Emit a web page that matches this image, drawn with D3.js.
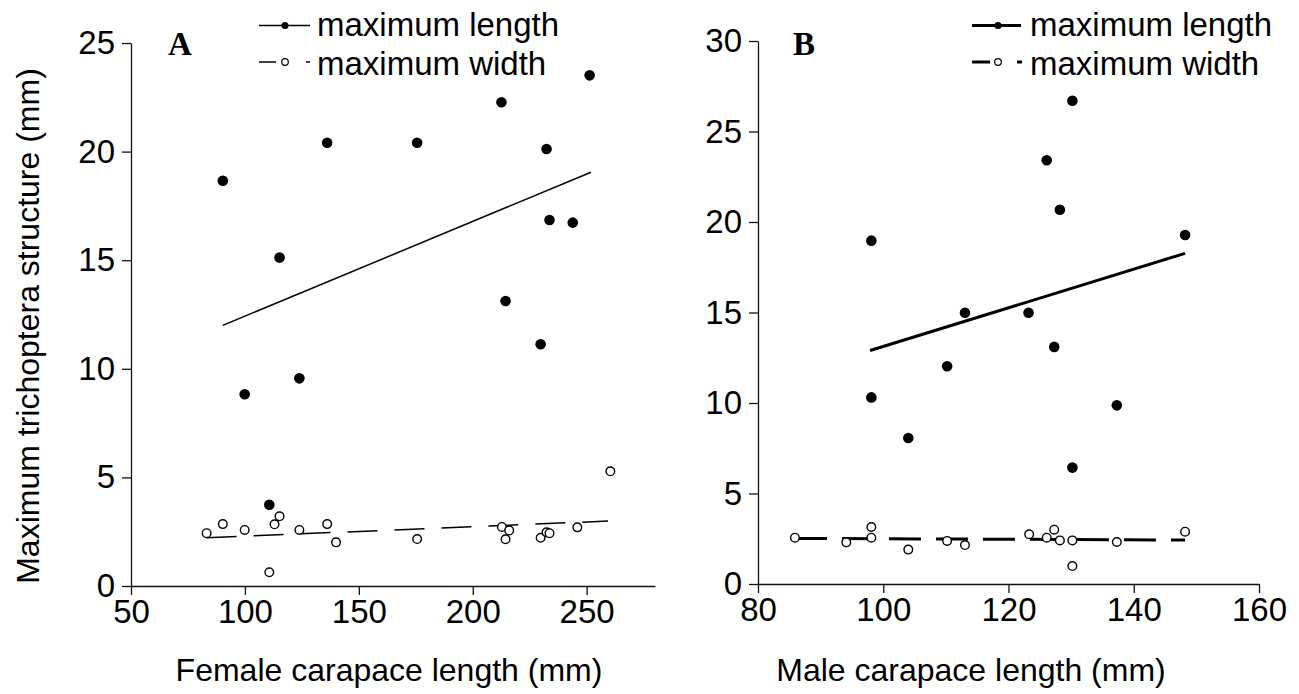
<html>
<head>
    <meta charset="utf-8" />
    <script src="https://cdn.jsdelivr.net/npm/d3@7"></script>
</head>
<style>
    body { margin: 0; background: #fff; }
    svg { font-family: "Liberation Sans", Arial, sans-serif; }
    .axis path, .axis line { stroke: #111; stroke-width: 1.3px; }
    .axis text { font-size: 33px; fill: #000; font-family: "Liberation Sans", Arial, sans-serif; }
</style>
<body>
    <svg id="chart" width="1299" height="694"></svg>

    <script>
        // panel A: females
        var femaleLength = [[90.3, 18.66], [115.2, 15.12], [136.1, 20.41], [175.6, 20.41], [212.6, 22.27],
            [232.4, 20.12], [233.7, 16.85], [243.9, 16.73], [214.4, 13.12], [229.8, 11.13],
            [251.3, 23.51], [99.9, 8.83], [123.9, 9.56], [110.7, 3.74]];
        var femaleWidth = [[83.2, 2.43], [90.3, 2.85], [99.9, 2.58], [110.7, 0.63], [113.0, 2.84],
            [115.2, 3.21], [123.9, 2.58], [136.1, 2.85], [140.0, 2.01], [175.6, 2.16],
            [212.8, 2.72], [216.0, 2.56], [214.4, 2.15], [229.8, 2.22], [232.4, 2.47],
            [233.7, 2.43], [245.9, 2.70], [260.4, 5.28]];
        var femaleLengthFit = [[90.3, 12.0], [251.9, 19.05]];
        var femaleWidthFit = [[83.2, 2.22], [259.4, 2.99]];
        var femaleXTicks = [50, 100, 150, 200, 250];
        var femaleYTicks = [0, 5, 10, 15, 20, 25];

        // panel B: males
        var maleLength = [[98.1, 18.97], [113.05, 14.99], [123.2, 14.99], [126.1, 23.41], [128.2, 20.68],
            [130.2, 26.7], [148.2, 19.28], [127.3, 13.1], [98.1, 10.31], [104.0, 8.07],
            [110.2, 12.03], [137.3, 9.87], [130.2, 6.43]];
        var maleWidth = [[85.9, 2.56], [94.1, 2.30], [98.1, 3.15], [98.1, 2.56], [104.0, 1.90],
            [110.2, 2.38], [113.05, 2.15], [123.3, 2.75], [126.1, 2.56], [127.3, 3.0],
            [128.2, 2.41], [130.2, 2.41], [130.2, 0.99], [137.3, 2.32], [148.2, 2.89]];
        var maleLengthFit = [[97.9, 12.9], [148.2, 18.27]];
        var maleWidthFit = [[85.9, 2.52], [148.2, 2.43]];
        var maleXTicks = [80, 100, 120, 140, 160];
        var maleYTicks = [0, 5, 10, 15, 20, 25, 30];

        var svg = d3.select("#chart");

        var panels = [
            {
                label: "A", labelX: 168, title: "Female carapace length (mm)", titleX: 389,
                x: d3.scaleLinear().domain([50, 280]).range([131, 655]),
                y: d3.scaleLinear().domain([0, 25]).range([586, 43]),
                xTicks: femaleXTicks, yTicks: femaleYTicks,
                length: femaleLength, width: femaleWidth,
                lengthFit: femaleLengthFit, widthFit: femaleWidthFit,
                fitWidth: 1.5, legX: 259, legLenEnd: 310, legDot: 285, legWidEnd: 276, legDash: [306, 310], legText: 317
            },
            {
                label: "B", labelX: 793, title: "Male carapace length (mm)", titleX: 971,
                x: d3.scaleLinear().domain([80, 160]).range([758, 1259]),
                y: d3.scaleLinear().domain([0, 30]).range([584, 41]),
                xTicks: maleXTicks, yTicks: maleYTicks,
                length: maleLength, width: maleWidth,
                lengthFit: maleLengthFit, widthFit: maleWidthFit,
                fitWidth: 3, legX: 972, legLenEnd: 1021, legDot: 998, legWidEnd: 990, legDash: [1017, 1022], legText: 1030
            }
        ];

        panels.forEach(function(p) {
            var g = svg.append("g");
            var x = p.x, y = p.y;

            g.append("g")
                .attr("class", "axis")
                .attr("transform", "translate(0," + y.range()[0] + ")")
                .call(d3.axisBottom(x).tickValues(p.xTicks).tickSize(9).tickSizeOuter(0).tickPadding(5).tickFormat(d3.format("d")));

            g.append("g")
                .attr("class", "axis")
                .attr("transform", "translate(" + x.range()[0] + ",0)")
                .call(d3.axisLeft(y).tickValues(p.yTicks).tickSize(9).tickSizeOuter(0).tickPadding(7).tickFormat(d3.format("d")));

            g.selectAll(".axis .domain").attr("stroke", "#111");

            var line = d3.line()
                .x(function(d) { return x(d[0]); })
                .y(function(d) { return y(d[1]); });

            // regression lines
            g.append("path").datum(p.lengthFit)
                .attr("d", line)
                .attr("fill", "none").attr("stroke", "#000").attr("stroke-width", p.fitWidth);
            g.append("path").datum(p.widthFit)
                .attr("d", line)
                .attr("fill", "none").attr("stroke", "#000").attr("stroke-width", p.fitWidth)
                .attr("stroke-dasharray", p.fitWidth > 2 ? "32,15" : "30,17");

            // points
            g.selectAll("circle.len").data(p.length).enter().append("circle")
                .attr("class", "len")
                .attr("cx", function(d) { return x(d[0]); })
                .attr("cy", function(d) { return y(d[1]); })
                .attr("r", 5.3).attr("fill", "#000");
            g.selectAll("circle.wid").data(p.width).enter().append("circle")
                .attr("class", "wid")
                .attr("cx", function(d) { return x(d[0]); })
                .attr("cy", function(d) { return y(d[1]); })
                .attr("r", 4.3).attr("fill", "#fff").attr("stroke", "#000").attr("stroke-width", 1.4);

            // panel letter
            g.append("text")
                .attr("x", p.labelX).attr("y", 55)
                .style("font-family", "'Liberation Serif', 'Times New Roman', serif")
                .style("font-weight", "bold").style("font-size", "33px")
                .text(p.label);

            // legend
            var lw = p.fitWidth > 2 ? 3 : 1.5;
            g.append("line").attr("x1", p.legX).attr("x2", p.legLenEnd).attr("y1", 25.5).attr("y2", 25.5)
                .attr("stroke", "#000").attr("stroke-width", lw);
            g.append("circle").attr("cx", p.legDot).attr("cy", 25.5).attr("r", 3.6).attr("fill", "#000");
            g.append("line").attr("x1", p.legX).attr("x2", p.legWidEnd).attr("y1", 62).attr("y2", 62)
                .attr("stroke", "#000").attr("stroke-width", lw);
            g.append("line").attr("x1", p.legDash[0]).attr("x2", p.legDash[1]).attr("y1", 62).attr("y2", 62)
                .attr("stroke", "#000").attr("stroke-width", lw);
            g.append("circle").attr("cx", p.legDot).attr("cy", 62).attr("r", 3.3)
                .attr("fill", "#fff").attr("stroke", "#000").attr("stroke-width", 1.2);
            g.append("text").attr("x", p.legText).attr("y", 36).style("font-size", "33px").text("maximum length");
            g.append("text").attr("x", p.legText).attr("y", 75).style("font-size", "33px").text("maximum width");

            // x title
            g.append("text")
                .attr("x", p.titleX).attr("y", 681)
                .attr("text-anchor", "middle")
                .style("font-size", "32px")
                .text(p.title);
        });

        svg.append("text")
            .attr("transform", "translate(39,326) rotate(-90)")
            .attr("text-anchor", "middle")
            .style("font-size", "32px")
            .text("Maximum trichoptera structure (mm)");
    </script>
</body>
</html>
